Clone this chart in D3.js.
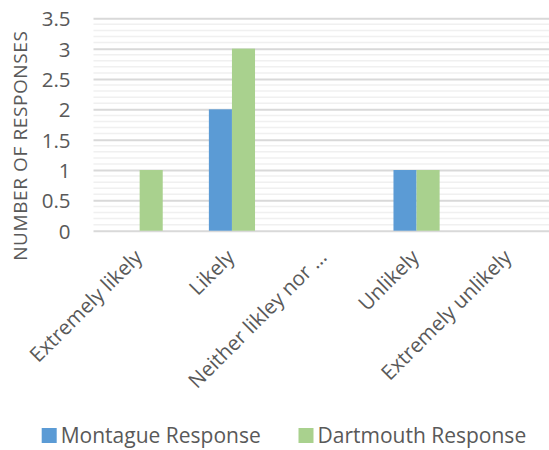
<!DOCTYPE html>
<html>
<head>
<meta charset="utf-8">
<script src="https://cdn.jsdelivr.net/npm/d3@7"></script>
<style>
  html, body { margin: 0; padding: 0; background: #fff; }
  svg { display: block; }
  text { font-family: "Open Sans", "Noto Sans", sans-serif; fill: #595959; }
</style>
</head>
<body>
<svg id="chart" width="549" height="450"></svg>
<script>
// Survey answers by likelihood category
const categories = ["Extremely likely", "Likely", "Neither likley nor \u2026", "Unlikely", "Extremely unlikely"];
const seriesNames = ["Montague Response", "Dartmouth Response"];
const montague = [0, 2, 0, 1, 0];
const dartmouth = [1, 3, 0, 1, 0];
const yTicks = [0, 0.5, 1, 1.5, 2, 2.5, 3, 3.5];
const colors = ["#5B9BD5", "#A9D18E"];

const series = [montague, dartmouth];

const svg = d3.select("#chart");
const plot = { left: 93.5, right: 555, top: 18.3, bottom: 230.7 };

const x = d3.scaleBand().domain(categories).range([plot.left, plot.right]);
const inner = d3.scaleBand().domain(seriesNames)
  .range([x.bandwidth() * 0.25, x.bandwidth() * 0.75]);
const y = d3.scaleLinear().domain([0, 3.5]).range([plot.bottom, plot.top]);

// minor gridlines every 0.1
const minor = d3.range(0, 35).map(i => i / 10).filter(v => Math.round(v * 10) % 5 !== 0);
svg.append("g").selectAll("line").data(minor).join("line")
  .attr("x1", plot.left).attr("x2", plot.right)
  .attr("y1", d => y(d)).attr("y2", d => y(d))
  .attr("stroke", "#F0F0F0").attr("stroke-width", 1.5);

// major gridlines and labels via axis
const yAxis = svg.append("g")
  .attr("transform", `translate(${plot.left},0)`)
  .call(d3.axisLeft(y).tickValues(yTicks).tickSize(-(plot.right - plot.left)).tickPadding(23)
    .tickFormat(d => d3.format("")(d)));
yAxis.select(".domain").remove();
yAxis.selectAll(".tick line").attr("stroke", "#D9D9D9").attr("stroke-width", 2);
yAxis.selectAll(".tick text")
  .style("font-size", "20.5px").attr("fill", "#595959").attr("dy", "0.36em");

// bars
const groups = svg.append("g").selectAll("g").data(series).join("g")
  .attr("fill", (d, i) => colors[i]);
groups.each(function(vals, si) {
  d3.select(this).selectAll("rect").data(vals).join("rect")
    .attr("x", (v, ci) => x(categories[ci]) + inner(seriesNames[si]))
    .attr("width", inner.bandwidth())
    .attr("y", v => y(v))
    .attr("height", v => y(0) - y(v));
});

// category labels, rotated
svg.append("g").selectAll("text").data(categories).join("text")
  .attr("transform", d => `translate(${x(d) + x.bandwidth() / 2 - 2},${plot.bottom + 22}) rotate(-45)`)
  .attr("text-anchor", "end")
  .attr("dy", "0.4em")
  .style("font-size", "20.5px")
  .text(d => d);

// y axis title
svg.append("text")
  .attr("transform", `translate(27,145.7) rotate(-90)`)
  .attr("text-anchor", "middle")
  .style("font-size", "19px")
  .style("letter-spacing", "0.6px")
  .text("NUMBER OF RESPONSES");

// legend
const legendX = [41.7, 298.5];
const legend = svg.append("g").selectAll("g").data(seriesNames).join("g")
  .attr("transform", (d, i) => `translate(${legendX[i]},428)`);
legend.append("rect").attr("width", 15).attr("height", 15)
  .attr("fill", (d, i) => colors[i]);
legend.append("text").attr("x", 19).attr("y", 15)
  .style("font-size", "21px").text(d => d);
</script>
</body>
</html>
